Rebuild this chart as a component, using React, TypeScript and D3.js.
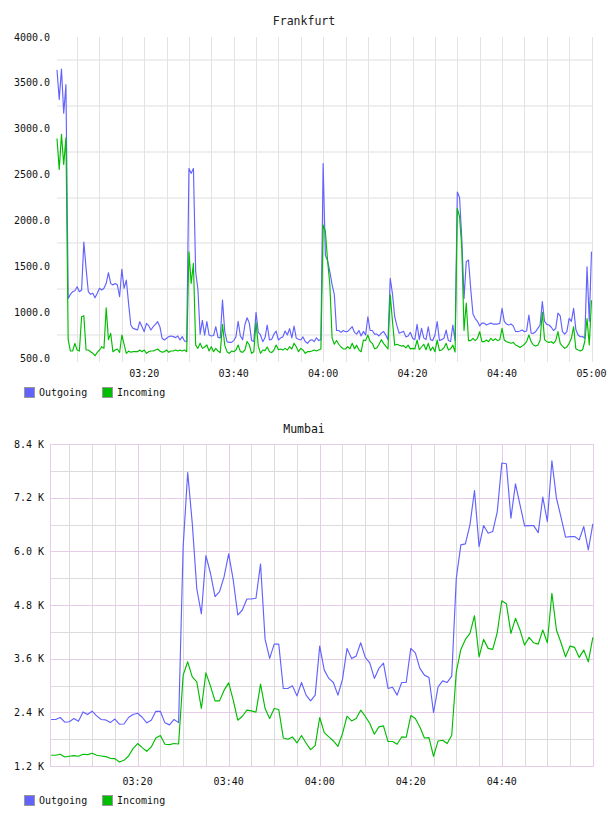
import React from 'react';
import * as d3 from 'd3';

const FONT = '"DejaVu Sans Mono", monospace';

// Frankfurt traffic, one sample every 30 s from 03:00:30 to 05:00:00
const frankfurtOutgoing = [
  3640, 3320, 3650, 3170, 3480, 1150, 1194, 1223, 1234, 1277,
  1223, 1241, 1764, 1477, 1223, 1194, 1205, 1157, 1205, 1260,
  1241, 1260, 1314, 1430, 1314, 1296, 1314, 1296, 1168, 1467,
  1260, 1350, 1096, 860, 823, 815, 805, 896, 841, 787,
  878, 852, 805, 841, 867, 896, 841, 715, 697, 715,
  733, 740, 733, 722, 740, 697, 733, 686, 679, 2567,
  2513, 2567, 1440, 1250, 760, 910, 750, 896, 751, 740,
  745, 841, 725, 720, 1132, 790, 678, 670, 670, 690,
  730, 900, 740, 700, 860, 939, 880, 690, 680, 998,
  780, 751, 678, 720, 860, 696, 705, 760, 794, 696,
  720, 730, 794, 751, 820, 720, 849, 715, 705, 696,
  730, 680, 660, 690, 700, 678, 721, 690, 700, 2620,
  1620, 1560, 1440, 1300, 1190, 800, 800, 780, 800, 787,
  790, 815, 841, 780, 760, 800, 740, 790, 750, 950,
  800, 800, 760, 760, 740, 770, 790, 750, 700, 1370,
  1200, 950, 850, 770, 780, 790, 730, 740, 780, 715,
  700, 867, 700, 823, 720, 700, 841, 700, 690, 751,
  896, 690, 700, 715, 805, 690, 680, 860, 690, 2310,
  2250, 1800, 1150, 1550, 1568, 1250, 980, 930, 900, 850,
  880, 880, 860, 870, 880, 870, 870, 870, 878, 1041,
  900, 870, 860, 870, 850, 790, 787, 794, 805, 787,
  795, 969, 770, 769, 787, 823, 860, 1114, 900, 867,
  860, 835, 800, 823, 990, 960, 787, 760, 790, 932,
  900, 1041, 810, 751, 732, 735, 715, 1495, 900, 1660,
];

const frankfurtIncoming = [
  2894, 2557, 2938, 2611, 2901, 700, 576, 576, 660, 587,
  576, 950, 961, 587, 587, 569, 551, 525, 562, 587,
  623, 605, 1048, 700, 769, 569, 587, 598, 560, 751,
  649, 551, 576, 562, 569, 569, 569, 587, 569, 587,
  551, 569, 576, 576, 587, 598, 576, 562, 569, 587,
  562, 576, 576, 587, 576, 587, 576, 587, 569, 1659,
  1314, 1532, 640, 605, 660, 605, 620, 642, 576, 623,
  569, 605, 576, 558, 867, 640, 569, 551, 576, 569,
  587, 642, 569, 562, 587, 680, 642, 551, 569, 889,
  630, 551, 587, 580, 620, 569, 560, 587, 642, 590,
  598, 587, 605, 587, 623, 598, 660, 623, 569, 605,
  587, 551, 569, 569, 576, 587, 576, 587, 598, 1950,
  1880, 1560, 1300, 720, 650, 690, 650, 620, 600, 598,
  623, 600, 660, 600, 640, 587, 569, 696, 690, 751,
  680, 660, 600, 610, 650, 700, 660, 630, 598, 1190,
  900, 640, 650, 640, 630, 635, 610, 640, 600, 605,
  598, 696, 590, 620, 650, 590, 660, 580, 620, 569,
  696, 580, 587, 610, 660, 587, 600, 640, 565, 2130,
  2040, 1700, 800, 1100, 690, 690, 715, 690, 715, 787,
  678, 678, 696, 678, 715, 690, 710, 690, 700, 823,
  696, 678, 670, 660, 670, 642, 630, 615, 630, 650,
  678, 751, 678, 642, 630, 640, 690, 998, 700, 678,
  670, 678, 660, 690, 787, 660, 630, 605, 620, 660,
  715, 841, 600, 587, 576, 590, 680, 930, 642, 1130,
];

const frankfurtYTicks = [500, 1000, 1500, 2000, 2500, 3000, 3500, 4000];
const frankfurtXTicks = ['03:20', '03:40', '04:00', '04:20', '04:40', '05:00'];

// Mumbai traffic, one sample per minute from 03:01 to 05:00
const mumbaiOutgoing = [
  2240, 2240, 2284, 2179, 2190, 2262, 2200, 2410, 2350, 2425,
  2320, 2240, 2230, 2170, 2250, 2134, 2140, 2285, 2350, 2380,
  2290, 2165, 2225, 2425, 2420, 2165, 2120, 2240, 2170, 6106,
  7763, 6630, 5158, 4600, 5904, 5510, 4986, 5098, 5434, 5942,
  5360, 4576, 4688, 4934, 4934, 4950, 5718, 4031, 3606, 3926,
  3926, 2934, 2934, 2992, 2768, 3068, 2784, 2656, 2784, 3881,
  3344, 3158, 3068, 2784, 3136, 3830, 3606, 3657, 3955, 3630,
  3507, 3158, 3382, 3500, 2934, 2960, 2784, 3068, 3068, 3830,
  3731, 3382, 3232, 3180, 2396, 2970, 3104, 3068, 3210, 5398,
  6144, 6166, 6592, 7360, 6106, 6576, 6406, 6442, 6890, 7974,
  7958, 6742, 7510, 7040, 6569, 6576, 6576, 6419, 7212, 6666,
  8025, 7190, 6764, 6316, 6330, 6330, 6256, 6554, 6032, 6614,
];

const mumbaiIncoming = [
  1440, 1440, 1462, 1402, 1417, 1432, 1417, 1462, 1455, 1484,
  1440, 1424, 1410, 1372, 1365, 1290, 1327, 1424, 1589, 1702,
  1612, 1529, 1626, 1827, 1881, 1686, 1679, 1702, 1693, 3232,
  3530, 3194, 3082, 2486, 3283, 2985, 2656, 2656, 2896, 3059,
  2672, 2224, 2313, 2448, 2432, 2403, 3030, 2486, 2262, 2486,
  2463, 1827, 1798, 1850, 1715, 1881, 1715, 1567, 1657, 2284,
  1948, 1850, 1760, 1641, 1925, 2313, 2208, 2262, 2448, 2313,
  2150, 1910, 2074, 2096, 1747, 1747, 1686, 1850, 1842, 2329,
  2262, 2074, 1827, 1835, 1417, 1760, 1776, 1702, 1888, 3306,
  3807, 4031, 4166, 4560, 3642, 4031, 3830, 3807, 4180, 4896,
  4830, 4166, 4502, 4240, 3904, 4076, 3955, 3926, 4240, 3955,
  5062, 4240, 3955, 3642, 3881, 3852, 3628, 3792, 3530, 4076,
];

const mumbaiYTicks = [1200, 2400, 3600, 4800, 6000, 7200, 8400];
const mumbaiXTicks = ['03:20', '03:40', '04:00', '04:20', '04:40'];

const seriesNames = ['Outgoing', 'Incoming'];
const seriesColors = ['#6262ff', '#00bd00'];

const at = (h: number, m: number, s = 0) => new Date(2000, 0, 1, h, m, s);
const parseHM = (label: string) => {
  const [h, m] = label.split(':').map(Number);
  return at(h, m);
};
const sampleTimes = (count: number, stepSec: number) =>
  d3.range(count).map((i) => new Date(at(3, 0).getTime() + (i + 1) * stepSec * 1000));

type Point = { t: Date; v: number };

function Series({ data, color, x, y }: { data: Point[]; color: string; x: any; y: any }) {
  const line = d3
    .line<Point>()
    .x((d) => x(d.t))
    .y((d) => y(d.v));
  return (
    <path d={line(data) || ''} fill="none" stroke={color} strokeWidth={1.15} strokeLinejoin="round" />
  );
}

function Legend({ top }: { top: number }) {
  const offsets = [24, 102];
  return (
    <g>
      {seriesNames.map((name, i) => (
        <g key={name}>
          <rect x={offsets[i] + 0.5} y={top + 0.5} width={10} height={10} fill={seriesColors[i]} stroke="#999" strokeWidth={1} />
          <text x={offsets[i] + 15} y={top + 8.5} fontFamily={FONT} fontSize={10} fill="#111">
            {name}
          </text>
        </g>
      ))}
    </g>
  );
}

function FrankfurtPanel() {
  const left = 57, right = 593, top = 37, bottom = 358;
  const x = d3.scaleTime().domain([at(3, 0, 30), at(5, 0, 20)]).range([left, right]);
  const y = d3.scaleLinear().domain([500, 4000]).range([bottom, top]);
  const times = sampleTimes(frankfurtOutgoing.length, 30);
  const out = frankfurtOutgoing.map((v, i) => ({ t: times[i], v }));
  const inc = frankfurtIncoming.map((v, i) => ({ t: times[i], v }));
  const vGrid = d3.timeMinute.every(5)!.range(at(3, 5), at(5, 0, 1));
  const hGrid = d3.range(750, 4000, 500);
  return (
    <g>
      <text x={304} y={25} textAnchor="middle" fontFamily={FONT} fontSize={11.5} fill="#222">
        Frankfurt
      </text>
      {hGrid.map((v) => (
        <line key={v} x1={left} x2={right} y1={Math.round(y(v))} y2={Math.round(y(v))} stroke="#efefef" strokeWidth={2} />
      ))}
      {vGrid.map((t) => (
        <line key={+t} x1={Math.round(x(t)) + 0.5} x2={Math.round(x(t)) + 0.5} y1={top} y2={bottom + 4} stroke="#e3e3e3" strokeWidth={1} />
      ))}
      {frankfurtYTicks.map((v) => (
        <text key={v} x={50} y={y(v)} dy="0.35em" textAnchor="end" fontFamily={FONT} fontSize={10} fill="#111">
          {v.toFixed(1)}
        </text>
      ))}
      {frankfurtXTicks.map((l) => (
        <text key={l} x={x(parseHM(l))} y={377} textAnchor="middle" fontFamily={FONT} fontSize={10} fill="#111">
          {l}
        </text>
      ))}
      <Series data={out} color={seriesColors[0]} x={x} y={y} />
      <Series data={inc} color={seriesColors[1]} x={x} y={y} />
      <Legend top={387} />
    </g>
  );
}

function MumbaiPanel() {
  const left = 50, right = 594, top = 444, bottom = 766;
  const x = d3.scaleTime().domain([at(3, 0, 45), at(5, 0, 15)]).range([left, right]);
  const y = d3.scaleLinear().domain([1200, 8400]).range([bottom, top]);
  const times = sampleTimes(mumbaiOutgoing.length, 60);
  const out = mumbaiOutgoing.map((v, i) => ({ t: times[i], v }));
  const inc = mumbaiIncoming.map((v, i) => ({ t: times[i], v }));
  const minorV = d3.timeMinute.every(5)!.range(at(3, 5), at(5, 0)).filter((t) => t.getMinutes() % 20 !== 0);
  const majorV = mumbaiXTicks.map(parseHM);
  const minorH = d3.range(1800, 8400, 1200);
  const px = (v: number) => Math.round(v) + 0.5;
  const pink = '#e6cce6';
  return (
    <g>
      <text x={304} y={433} textAnchor="middle" fontFamily={FONT} fontSize={11.5} fill="#111">
        Mumbai
      </text>
      {minorH.map((v) => (
        <line key={v} x1={left} x2={right} y1={px(y(v))} y2={px(y(v))} stroke="#dcdcdc" strokeWidth={1} />
      ))}
      {minorV.map((t) => (
        <line key={+t} x1={px(x(t))} x2={px(x(t))} y1={top} y2={bottom} stroke="#dcdcdc" strokeWidth={1} />
      ))}
      {mumbaiYTicks.map((v) => (
        <line key={v} x1={left} x2={right} y1={px(y(v))} y2={px(y(v))} stroke={pink} strokeWidth={1} />
      ))}
      {majorV.map((t) => (
        <line key={+t} x1={px(x(t))} x2={px(x(t))} y1={top} y2={bottom} stroke={pink} strokeWidth={1} />
      ))}
      <line x1={px(left)} x2={px(left)} y1={top} y2={bottom} stroke={pink} />
      <line x1={px(right - 1)} x2={px(right - 1)} y1={top} y2={bottom} stroke={pink} />
      {mumbaiYTicks.map((v) => (
        <text key={v} x={44} y={y(v)} dy="0.35em" textAnchor="end" fontFamily={FONT} fontSize={10} fill="#111">
          {(v / 1000).toFixed(1)} K
        </text>
      ))}
      {mumbaiXTicks.map((l) => (
        <text key={l} x={x(parseHM(l))} y={785} textAnchor="middle" fontFamily={FONT} fontSize={10} fill="#111">
          {l}
        </text>
      ))}
      <Series data={out} color={seriesColors[0]} x={x} y={y} />
      <Series data={inc} color={seriesColors[1]} x={x} y={y} />
      <Legend top={795} />
    </g>
  );
}

export default function App() {
  return (
    <svg
      width={608}
      height={816}
      style={{ position: 'absolute', left: 0, top: 0, background: '#fff' }}
    >
      <FrankfurtPanel />
      <MumbaiPanel />
    </svg>
  );
}
